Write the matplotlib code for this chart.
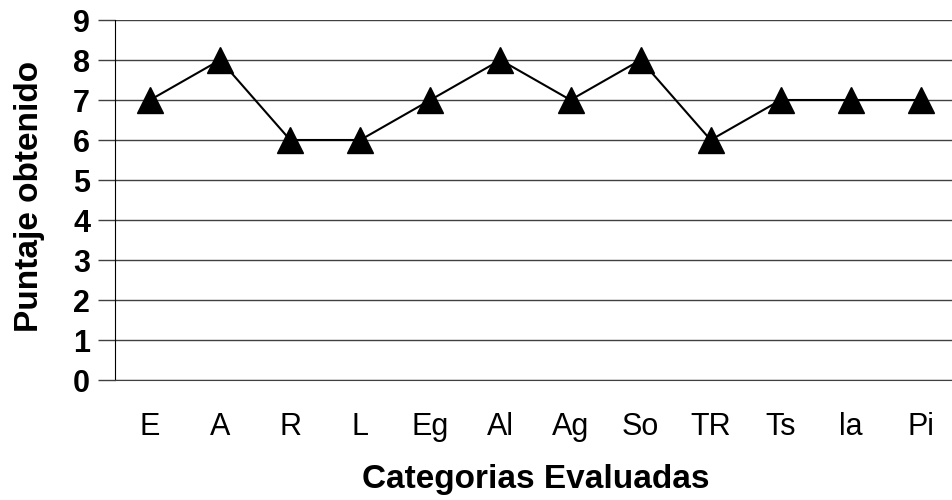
import numpy as np
from matplotlib import pyplot as plt

plt.rcParams['font.family'] = ['Liberation Sans', 'DejaVu Sans']

categorias = ['E', 'A', 'R', 'L', 'Eg', 'Al', 'Ag', 'So', 'TR', 'Ts', 'la', 'Pi']
puntaje = [7, 8, 6, 6, 7, 8, 7, 8, 6, 7, 7, 7]

fig = plt.figure(figsize=[9.52, 5.0], dpi=100)
ax = fig.add_axes([0.1208, 0.24, 0.8834, 0.72])

x = np.arange(len(categorias))
ax.plot(x, puntaje, c='black', linewidth=1.5, marker='^', markersize=19,
        markerfacecolor='black', markeredgecolor='black', clip_on=False, zorder=3)

ax.set_xlim(-0.5, len(categorias) - 0.5)
ax.set_ylim(0, 9)
ax.set_yticks(range(0, 10))
ax.set_xticks(x)
ax.set_xticklabels(categorias, fontsize=22)
for lbl in ax.get_yticklabels():
    lbl.set_fontweight('bold')
    lbl.set_fontsize(22)

ax.grid(axis='y', color='#404040', linewidth=1.0)
ax.set_axisbelow(True)
for s in ['top', 'right']:
    ax.spines[s].set_visible(False)
ax.spines['bottom'].set_color('#404040')
ax.spines['left'].set_color('black')
ax.tick_params(axis='y', length=12, width=1, color='#404040', pad=6)
ax.tick_params(axis='x', length=0, pad=23)

ax.set_xlabel('Categorias Evaluadas', fontsize=24, fontweight='bold', labelpad=16)
ax.set_ylabel('Puntaje obtenido', fontsize=24, fontweight='bold', va='center')
ax.yaxis.set_label_coords(-0.102, 0.51)

fig.savefig('out.png', dpi=100)
